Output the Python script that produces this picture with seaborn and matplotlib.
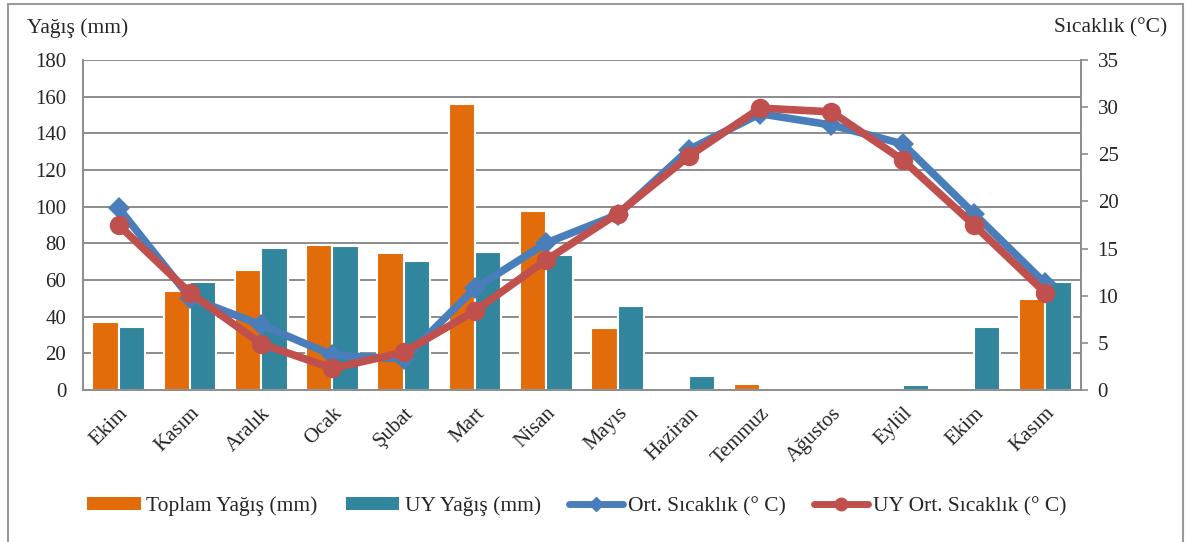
import numpy as np
import pandas as pd
import matplotlib
matplotlib.use("Agg")
import matplotlib.pyplot as plt
import seaborn as sns
from matplotlib.patches import Patch, Rectangle
from matplotlib.lines import Line2D

months = ["Ekim", "Kasım", "Aralık", "Ocak", "Şubat", "Mart", "Nisan",
          "Mayıs", "Haziran", "Temmuz", "Ağustos", "Eylül", "Ekim", "Kasım"]
toplam_yagis = [37, 54, 65.5, 79, 74.5, 156, 97.6, 33.6, 0, 3.3, 0, 0, 0, 49.5]
uy_yagis = [34.5, 58.7, 77.6, 78.7, 70.5, 75.5, 73.6, 45.8, 7.6, 0, 0, 2.7, 34.5, 58.7]
ort_sicaklik = [19.3, 9.8, 6.9, 3.7, 3.3, 10.8, 15.6, 18.6, 25.5, 29.3, 28.1, 26.1, 18.7, 11.3]
uy_ort_sicaklik = [17.5, 10.3, 4.9, 2.3, 4.0, 8.4, 13.8, 18.7, 24.8, 29.9, 29.5, 24.4, 17.5, 10.3]

bar_labels = ["Toplam Yağış (mm)", "UY Yağış (mm)"]
line_labels = ["Ort. Sıcaklık (° C)", "UY Ort. Sıcaklık (° C)"]

C_ORANGE = "#E36C0A"
C_TEAL = "#31859C"
C_BLUE = "#4A7EBB"
C_RED = "#C0504D"
C_GRID = "#8C8C8C"

sns.set_theme(style="white")
plt.rcParams["font.family"] = ["Liberation Serif", "DejaVu Serif"]

FS = 15

idx = list(range(len(months)))
df = pd.DataFrame({
    "pos": idx * 2,
    "value": toplam_yagis + uy_yagis,
    "series": [bar_labels[0]] * len(idx) + [bar_labels[1]] * len(idx),
})

fig = plt.figure(figsize=(11.87, 5.42), dpi=100)
ax = fig.add_axes([0.0699, 0.2804, 0.8408, 0.6089])

sns.barplot(data=df, x="pos", y="value", hue="series", ax=ax,
            palette=[C_ORANGE, C_TEAL], width=0.74, edgecolor="white",
            linewidth=1.5, legend=False, saturation=1)

ax.set_ylim(0, 180)
ax.set_yticks(np.arange(0, 181, 20))
ax.set_xlim(-0.5, len(months) - 0.5)
ax.yaxis.grid(True, color=C_GRID, linewidth=1.4)
ax.set_axisbelow(True)
ax.set_xlabel("")
ax.set_ylabel("")
ax.set_xticks(idx)
ax.set_xticklabels(months, rotation=45, ha="right", rotation_mode="anchor",
                   fontsize=FS)
ax.tick_params(axis="y", labelsize=FS, length=0, pad=12)
ax.tick_params(axis="x", length=0, pad=10)
for s in ["top", "right"]:
    ax.spines[s].set_visible(False)
for s in ["left", "bottom"]:
    ax.spines[s].set_color(C_GRID)
    ax.spines[s].set_linewidth(1.4)

ax2 = ax.twinx()
sns.lineplot(x=idx, y=ort_sicaklik, ax=ax2, color=C_BLUE, linewidth=5.5,
             marker="D", markersize=11, markeredgewidth=0, sort=False)
sns.lineplot(x=idx, y=uy_ort_sicaklik, ax=ax2, color=C_RED, linewidth=5.5,
             marker="o", markersize=14, markeredgewidth=0, sort=False)
ax2.set_ylim(0, 35)
ax2.set_yticks(np.arange(0, 36, 5))
ax2.set_ylabel("")
ax2.tick_params(axis="y", labelsize=FS, length=5, width=1.2,
                color=C_GRID, pad=7, right=True)
ax2.grid(False)
for s in ["top", "left", "bottom"]:
    ax2.spines[s].set_visible(False)
ax2.spines["right"].set_color(C_GRID)
ax2.spines["right"].set_linewidth(1.4)

fig.text(0.023, 0.948, "Yağış (mm)", fontsize=15.5, ha="left", va="center")
fig.text(0.983, 0.948, "Sıcaklık (°C)", fontsize=15.5, ha="right", va="center")

handles = [
    Patch(facecolor=C_ORANGE, edgecolor="none"),
    Patch(facecolor=C_TEAL, edgecolor="none"),
    Line2D([0], [0], color=C_BLUE, linewidth=5, marker="D", markersize=7),
    Line2D([0], [0], color=C_RED, linewidth=5, marker="o", markersize=9),
]
fig.legend(handles, bar_labels + line_labels, loc="center",
           bbox_to_anchor=(0.486, 0.066), ncol=4, frameon=False,
           fontsize=15.5, handlelength=2.5, handleheight=0.6,
           handletextpad=0.25, columnspacing=1.3)

fig.patches.append(Rectangle((0.007, -0.02), 0.99, 1.012, transform=fig.transFigure,
                             fill=False, edgecolor="#9A9A9A", linewidth=1.5))

fig.savefig("out.png", dpi=100)
